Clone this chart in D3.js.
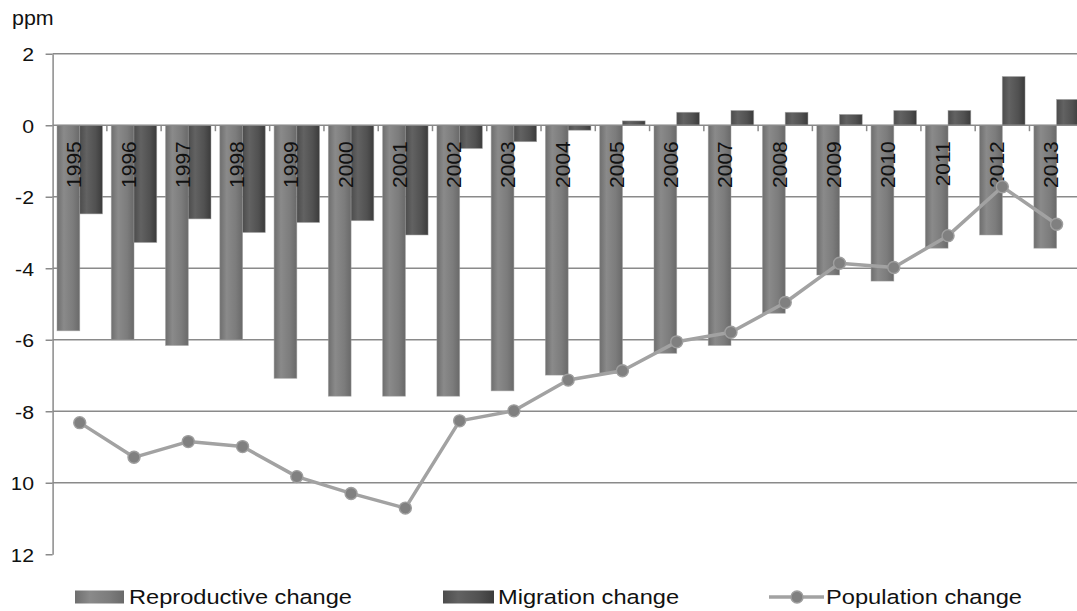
<!DOCTYPE html>
<html>
<head>
<meta charset="utf-8">
<script src="https://cdn.jsdelivr.net/npm/d3@7"></script>
<style>
  html, body { margin: 0; padding: 0; background: #ffffff; }
  svg { display: block; font-family: "Liberation Sans", Arial, sans-serif; }
</style>
</head>
<body>
<svg id="chart" width="1077" height="611"></svg>
<script>
// Natural and migration components of population change, ppm
const years = ["1995","1996","1997","1998","1999","2000","2001","2002","2003","2004",
               "2005","2006","2007","2008","2009","2010","2011","2012","2013"];
const reproductive = [-5.75, -6.0, -6.16, -6.0, -7.08, -7.58, -7.58, -7.58, -7.43, -6.99,
                      -6.94, -6.38, -6.16, -5.26, -4.19, -4.36, -3.44, -3.07, -3.44];
const migration = [-2.48, -3.28, -2.62, -3.0, -2.72, -2.67, -3.07, -0.65, -0.46, -0.14,
                   0.12, 0.36, 0.41, 0.36, 0.30, 0.41, 0.41, 1.36, 0.72];
const population = [-8.32, -9.29, -8.85, -8.99, -9.83, -10.30, -10.71, -8.27, -7.99, -7.13,
                    -6.87, -6.06, -5.79, -4.96, -3.86, -3.98, -3.09, -1.72, -2.77];
const yTicks = [2, 0, -2, -4, -6, -8, -10, -12];
const seriesNames = ["Reproductive change", "Migration change", "Population change"];
const unitLabel = "ppm";

const svg = d3.select("#chart");
const W = 1077;

// plot frame (the category band runs slightly past the right edge)
const plotLeft = 52.6, catStep = 54.27;
const plotTop = 53.7, plotBottom = 554.2;

const x = d3.scaleBand().domain(years)
  .range([plotLeft, plotLeft + catStep * years.length]).padding(0);
const xSub = d3.scaleBand().domain(["reproductive", "migration"])
  .range([0, x.bandwidth()]).paddingInner(0).paddingOuter(0.195);
const y = d3.scaleLinear().domain([-12, 2]).range([plotBottom, plotTop]);

// gradients for the bar fills
const defs = svg.append("defs");
function grad(id, stops) {
  const g = defs.append("linearGradient").attr("id", id)
    .attr("x1", "0%").attr("x2", "100%").attr("y1", "0%").attr("y2", "0%");
  stops.forEach(([o, c]) => g.append("stop").attr("offset", o).attr("stop-color", c));
}
grad("gRepro", [[0, "#6e6e6e"], [0.3, "#8a8a8a"], [0.7, "#7c7c7c"], [1, "#696969"]]);
grad("gMig", [[0, "#4c4c4c"], [0.3, "#626262"], [0.7, "#515151"], [1, "#3b3b3b"]]);

defs.append("clipPath").attr("id", "yLabelClip")
  .append("rect").attr("x", 12.5 - plotLeft).attr("y", 0).attr("width", plotLeft).attr("height", 611);

const gridColor = "#8a8a8a";

// horizontal gridlines
svg.append("g").selectAll("line")
  .data(yTicks.filter(d => d > -12 && d !== 0))
  .join("line")
  .attr("x1", plotLeft).attr("x2", W + 20)
  .attr("y1", d => y(d)).attr("y2", d => y(d))
  .attr("stroke", gridColor).attr("stroke-width", 1.6);

// category tick marks hanging below the zero line
const bounds = years.slice(1).map(d => x(d)).concat([x(years[years.length - 1]) + x.bandwidth()]);
svg.append("g").selectAll("line")
  .data(bounds)
  .join("line")
  .attr("x1", d => d).attr("x2", d => d)
  .attr("y1", y(0)).attr("y2", y(0) + 6)
  .attr("stroke", gridColor).attr("stroke-width", 1.5);

// bars
const rows = years.map((yr, i) => ({ yr, reproductive: reproductive[i], migration: migration[i] }));
const groups = svg.append("g").selectAll("g")
  .data(rows).join("g")
  .attr("transform", d => `translate(${x(d.yr)},0)`);
groups.selectAll("rect")
  .data(d => ["reproductive", "migration"].map(k => ({ k, v: d[k] })))
  .join("rect")
  .attr("x", d => xSub(d.k))
  .attr("width", xSub.bandwidth())
  .attr("y", d => y(Math.max(0, d.v)))
  .attr("height", d => Math.abs(y(d.v) - y(0)))
  .attr("fill", d => d.k === "reproductive" ? "url(#gRepro)" : "url(#gMig)")
  .attr("stroke", "#9a9a9a").attr("stroke-opacity", 0.6).attr("stroke-width", 0.8);

// zero line
svg.append("line")
  .attr("x1", plotLeft).attr("x2", W + 20)
  .attr("y1", y(0)).attr("y2", y(0))
  .attr("stroke", gridColor).attr("stroke-width", 1.6);

// y axis
const yAxis = svg.append("g")
  .attr("transform", `translate(${plotLeft},0)`)
  .attr("clip-path", "url(#yLabelClip)")
  .call(d3.axisLeft(y).tickValues(yTicks).tickSize(7).tickSizeOuter(0).tickFormat(d => String(d)));
yAxis.select(".domain").attr("stroke", gridColor).attr("stroke-width", 1.5);
yAxis.selectAll(".tick line").attr("stroke", gridColor).attr("stroke-width", 1.5);
yAxis.selectAll(".tick text")
  .attr("fill", "#111")
  .attr("font-size", 19)
  .attr("font-family", "Liberation Sans, Arial, sans-serif")
  .attr("x", -18.6 / 1.12)
  .attr("dy", null)
  .attr("y", 6.8)
  .attr("transform", "scale(1.12,1)");

// year labels, rotated, just under the zero line
svg.append("g").selectAll("text")
  .data(years).join("text")
  .attr("transform", d => `translate(${x(d) + x.bandwidth() / 2 + 1.5},${y(0) + 16})rotate(-90)`)
  .attr("text-anchor", "end")
  .attr("font-size", 21)
  .attr("fill", "#111")
  .text(d => d);

// population change line
const cx = d => x(d) + x.bandwidth() / 2;
const pts = years.map((yr, i) => [cx(yr), y(population[i])]);
svg.append("path")
  .attr("d", d3.line()(pts))
  .attr("fill", "none").attr("stroke", "#a2a2a2").attr("stroke-width", 3.5)
  .attr("stroke-linejoin", "round");
svg.append("g").selectAll("circle")
  .data(pts).join("circle")
  .attr("cx", d => d[0]).attr("cy", d => d[1]).attr("r", 6)
  .attr("fill", "#808080").attr("stroke", "#9e9e9e").attr("stroke-width", 1.4);

// unit label
svg.append("text")
  .attr("transform", "translate(12,25) scale(1.11,1)")
  .attr("font-size", 19.3).attr("fill", "#111")
  .text(unitLabel);

// legend
const legY = 597;
const leg = svg.append("g");
leg.append("rect").attr("x", 75).attr("y", legY - 6.5).attr("width", 49).attr("height", 13)
  .attr("fill", "url(#gRepro)");
leg.append("rect").attr("x", 443).attr("y", legY - 6.5).attr("width", 51).attr("height", 13)
  .attr("fill", "url(#gMig)");
leg.append("line").attr("x1", 769).attr("x2", 824).attr("y1", legY).attr("y2", legY)
  .attr("stroke", "#a2a2a2").attr("stroke-width", 3.5);
leg.append("circle").attr("cx", 797).attr("cy", legY).attr("r", 6)
  .attr("fill", "#808080").attr("stroke", "#9e9e9e").attr("stroke-width", 1.4);
const legText = [[129, 223], [498, 181], [826, 196]];
leg.selectAll("text").data(seriesNames).join("text")
  .attr("x", (d, i) => legText[i][0])
  .attr("y", legY + 7.3)
  .attr("font-size", 20.5).attr("fill", "#111")
  .attr("textLength", (d, i) => legText[i][1])
  .attr("lengthAdjust", "spacingAndGlyphs")
  .text(d => d);
</script>
</body>
</html>
